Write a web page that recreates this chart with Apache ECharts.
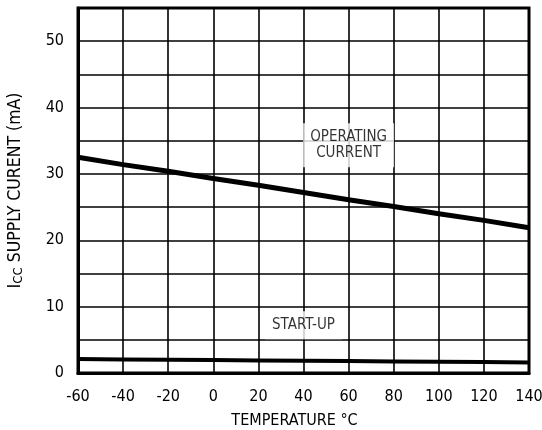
<!DOCTYPE html>
<html>
<head>
<meta charset="utf-8">
<script src="https://cdn.jsdelivr.net/npm/echarts@6/dist/echarts.min.js"></script>
<style>
  html, body { margin: 0; padding: 0; background: #fff; }
  #chart { width: 542px; height: 430px; }
</style>
</head>
<body>
<div id="chart"></div>
<script>
// Supply current vs. temperature
const temperature = [-60, -40, -20, 0, 20, 40, 60, 80, 100, 120, 140];
const operatingCurrent = [32.5, 31.4, 30.4, 29.3, 28.3, 27.2, 26.1, 25.1, 24.0, 23.0, 21.9];
const startupCurrent = [2.1, 2.05, 2.0, 1.95, 1.9, 1.85, 1.8, 1.75, 1.7, 1.65, 1.6];

// Curve annotations: [temperature, current, text]
const notes = [
  [60, 34.3, 'OPERATING\nCURRENT'],
  [40, 7.2, 'START-UP']
];

const FONT = '"DejaVu Sans Condensed", "Liberation Sans", Arial, sans-serif';

const chart = echarts.init(document.getElementById('chart'), null, { renderer: 'canvas' });

chart.setOption({
  animation: false,
  backgroundColor: '#fff',
  grid: {
    left: 78, right: 13, top: 8, bottom: 57,
    containLabel: false,
    outerBoundsMode: 'none',
    show: true, borderColor: '#000', borderWidth: 3
  },
  xAxis: {
    type: 'value',
    min: -60, max: 140, interval: 20,
    name: 'TEMPERATURE °C',
    nameLocation: 'middle',
    nameGap: 40,
    nameTextStyle: { fontFamily: FONT, fontSize: 16, color: '#000', padding: [0, 18, 0, 0] },
    axisLine: { show: true, onZero: false, lineStyle: { color: '#000', width: 3 } },
    axisTick: { show: false },
    axisLabel: { fontFamily: FONT, fontSize: 16, color: '#000', margin: 16 },
    splitLine: { show: true, lineStyle: { color: '#000', width: 1.6 } }
  },
  yAxis: {
    type: 'value',
    min: 0, max: 55, interval: 5,
    name: '{i|I}{sub|CC}{t| SUPPLY CURENT (mA)}',
    nameLocation: 'middle',
    nameGap: 53,
    nameTextStyle: {
      fontFamily: FONT, color: '#000',
      rich: {
        i: { fontFamily: FONT, fontSize: 18, color: '#000' },
        sub: { fontFamily: FONT, fontSize: 13, color: '#000', verticalAlign: 'bottom', padding: [7, 0, 0, 0] },
        t: { fontFamily: FONT, fontSize: 17.5, color: '#000' }
      }
    },
    axisLine: { show: true, onZero: false, lineStyle: { color: '#000', width: 3 } },
    axisTick: { show: false },
    axisLabel: {
      fontFamily: FONT, fontSize: 16, color: '#000', margin: 14,
      formatter: v => (v % 10 === 0 ? String(v) : '')
    },
    splitLine: { show: true, lineStyle: { color: '#000', width: 1.6 } }
  },
  series: [
    {
      name: 'OPERATING CURRENT',
      type: 'line',
      data: temperature.map((t, i) => [t, operatingCurrent[i]]),
      symbol: 'none',
      lineStyle: { color: '#000', width: 5 },
      z: 3
    },
    {
      name: 'START-UP',
      type: 'line',
      data: temperature.map((t, i) => [t, startupCurrent[i]]),
      symbol: 'none',
      lineStyle: { color: '#000', width: 4 },
      z: 3
    },
    {
      type: 'scatter',
      data: notes.map(n => [n[0], n[1], n[2]]),
      symbolSize: 0,
      silent: true,
      z: 4,
      label: {
        show: true,
        position: 'inside',
        formatter: p => p.data[2],
        fontFamily: FONT,
        fontSize: 15,
        lineHeight: 16,
        color: '#000',
        align: 'center',
        backgroundColor: '#fff',
        padding: [6, 7, 6, 7]
      }
    }
  ]
});
</script>
</body>
</html>
